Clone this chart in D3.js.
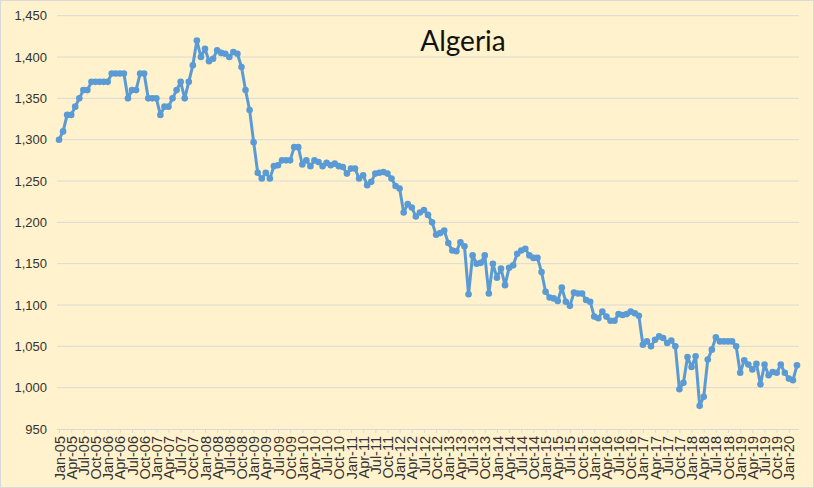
<!DOCTYPE html>
<html>
<head>
<meta charset="utf-8">
<script src="https://cdn.jsdelivr.net/npm/d3@7"></script>
<style>
  body { margin: 0; background: #fff; }
  svg { display: block; font-family: Lato, "Open Sans", sans-serif; }
</style>
</head>
<body>
<div class="graph"></div>
<script>
/*---------- DATA ----------*/

//monthly production, Jan-05 .. Mar-20 (thousand b/d)
const production = [
  1300, 1310, 1330, 1330, 1340, 1350, 1360, 1360, 1370, 1370, 1370, 1370,
  1370, 1380, 1380, 1380, 1380, 1350, 1360, 1360, 1380, 1380, 1350, 1350,
  1350, 1330, 1340, 1340, 1350, 1360, 1370, 1350, 1370, 1390, 1420, 1400,
  1410, 1395, 1398, 1408, 1405, 1404, 1400, 1406, 1404, 1388, 1360, 1336,
  1297, 1260, 1253, 1260, 1253, 1268, 1269, 1275, 1275, 1275, 1291, 1291,
  1270, 1275, 1268, 1275, 1273, 1268, 1272, 1269, 1271, 1268, 1267, 1259,
  1265, 1265, 1253, 1257, 1245, 1249, 1259, 1260, 1261, 1259, 1253, 1244,
  1241, 1212, 1222, 1218, 1207, 1212, 1215, 1209, 1200, 1185, 1187, 1190,
  1175, 1166, 1165, 1176, 1171, 1113, 1160, 1150, 1151, 1160, 1114, 1150,
  1133, 1144, 1124, 1145, 1148, 1162, 1166, 1168, 1160, 1157, 1157, 1140,
  1116, 1109, 1108, 1105, 1121, 1104, 1099, 1115, 1114, 1114, 1106, 1104,
  1086, 1084, 1092, 1086, 1081, 1081, 1089, 1088, 1089, 1092, 1090, 1087,
  1052, 1056, 1050, 1058, 1062, 1060, 1054, 1057, 1050,  998, 1006, 1037,
  1025, 1038,  978,  989, 1034, 1046, 1061, 1056, 1056, 1056, 1056, 1050,
  1018, 1033, 1028, 1022, 1029, 1004, 1028, 1015, 1019, 1018, 1028, 1018,
  1011, 1009, 1027
];

//month categories and which of them get a label
const months = d3.timeMonth.range(new Date(2005, 0, 1), new Date(2020, 3, 1))
    .map(d3.timeFormat("%b-%y"));
const labelEvery = 3;

//y axis ticks
const yTicks = [950, 1000, 1050, 1100, 1150, 1200, 1250, 1300, 1350, 1400, 1450];
const title = "Algeria";

/*---------- D3 STUFF ----------*/

const SIZE = {X: 814, Y: 488};
const PLOT = {LEFT: 57, RIGHT: 799, TOP: 15.7, BOTTOM: 429};

const svg = d3.select(".graph").append("svg")
    .attr("width", SIZE.X)
    .attr("height", SIZE.Y);

//background + chart border
svg.append("rect")
    .attr("x", 0.5).attr("y", 0.5)
    .attr("width", SIZE.X - 1).attr("height", SIZE.Y - 1)
    .attr("fill", "#fff2cc")
    .attr("stroke", "#d9d9d9");

//scales
const x = d3.scalePoint()
    .domain(months)
    .range([PLOT.LEFT, PLOT.RIGHT])
    .padding(0.5);

const y = d3.scaleLinear()
    .domain([950, 1450])
    .range([PLOT.BOTTOM, PLOT.TOP]);

//gridlines
svg.append("g")
    .selectAll("line")
    .data(yTicks.slice(1))
    .enter()
    .append("line")
        .attr("x1", PLOT.LEFT).attr("x2", PLOT.RIGHT)
        .attr("y1", d => y(d)).attr("y2", d => y(d))
        .attr("stroke", "#d9d9d9")
        .attr("stroke-width", 1);

//y axis labels
const yAxis = svg.append("g")
    .attr("class", "y axis")
    .attr("transform", `translate(${PLOT.LEFT}, 0)`)
    .call(d3.axisLeft(y).tickValues(yTicks).tickSize(0).tickPadding(10).tickFormat(d3.format(",")));

yAxis.select(".domain").remove();
yAxis.selectAll("text")
    .attr("fill", "#333")
    .style("font-size", "13px");

//x axis
const xAxis = svg.append("g")
    .attr("class", "x axis")
    .attr("transform", `translate(0, ${PLOT.BOTTOM})`)
    .call(d3.axisBottom(x)
        .tickValues(months.filter((d, i) => i % labelEvery === 0))
        .tickSize(4)
        .tickSizeOuter(0));

xAxis.select(".domain")
    .attr("stroke", "#d9d9d9")
    .attr("d", `M${PLOT.LEFT},0.5H${PLOT.RIGHT}`);
xAxis.selectAll(".tick line").attr("stroke", "#d9d9d9");
xAxis.selectAll("text")
    .attr("fill", "#333")
    .style("font-size", "14.5px")
    .attr("text-anchor", "end")
    .attr("transform", "rotate(-90)")
    .attr("x", -7)
    .attr("y", 0)
    .attr("dy", "0.35em");

//line + markers
const line = d3.line()
    .x((d, i) => x(months[i]))
    .y(d => y(d));

svg.append("path")
    .datum(production)
    .attr("fill", "none")
    .attr("stroke", "#5b9bd5")
    .attr("stroke-width", 3)
    .attr("stroke-linejoin", "round")
    .attr("d", line);

svg.append("g")
    .selectAll("circle")
    .data(production)
    .enter()
    .append("circle")
        .attr("cx", (d, i) => x(months[i]))
        .attr("cy", d => y(d))
        .attr("r", 3.3)
        .attr("fill", "#5b9bd5");

//title
svg.append("text")
    .attr("x", 463)
    .attr("y", 51)
    .attr("text-anchor", "middle")
    .attr("fill", "#111")
    .style("font-size", "28px")
    .text(title);
</script>
</body>
</html>
